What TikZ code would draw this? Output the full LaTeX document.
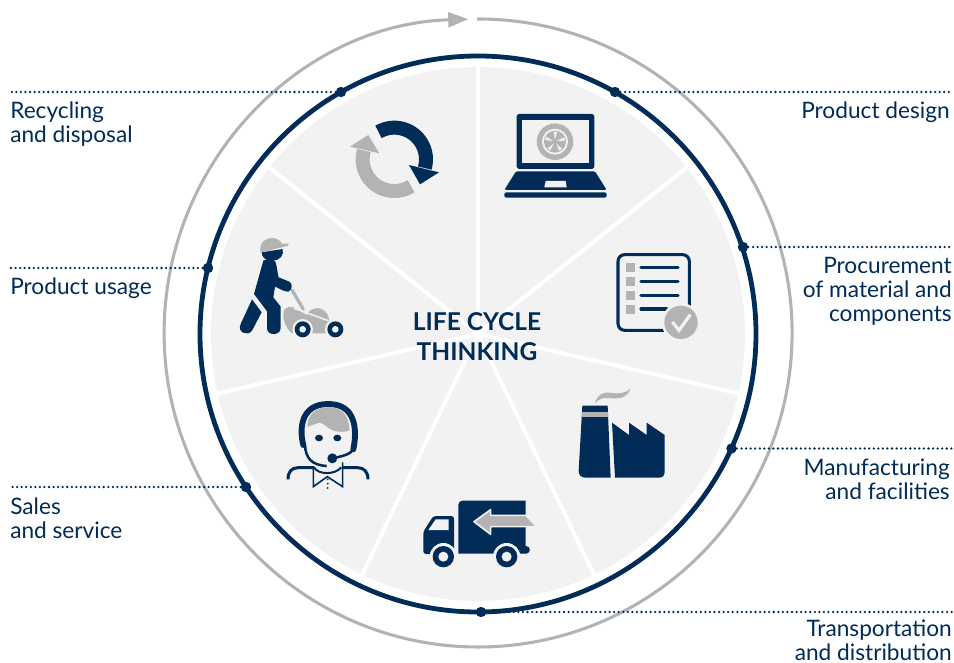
\documentclass[tikz,border=0pt]{standalone}
\usepackage{fontspec}
\setmainfont{Lato}
\usetikzlibrary{arrows.meta}
\definecolor{navy}{HTML}{012C57}
\definecolor{midgray}{HTML}{B3B3B3}
\definecolor{pale}{HTML}{F2F2F2}
\tikzset{
  ringdot/.style={circle, fill=navy, inner sep=0pt, minimum size=7.8pt},
  leader/.style={navy, line width=1.9pt, line cap=round, dash pattern=on 0pt off 3.42pt},
  steplabel/.style={navy, inner sep=0pt, font=\fontsize{17}{18}\selectfont},
  leftlabel/.style={steplabel, align=left, anchor=north west},
  rightlabel/.style={steplabel, align=right, anchor=north east},
  crop/.style={shift={#1}, x=0.25pt, y=0.25pt},
  navyfill/.style={fill=navy, draw=none},
  grayfill/.style={fill=midgray, draw=none},
  palefill/.style={fill=pale, draw=none},
  thickline/.style={navy, line width=2.3pt, line cap=round, line join=round}
}
\begin{document}
\begin{tikzpicture}[x=0.75pt, y=0.75pt, yscale=-1]
    \useasboundingbox (0,0) rectangle (954,663);
    \coordinate (ctr) at (478,334);

    % disc and spokes
    \fill[pale] (ctr) circle (267);
    \foreach \a in {0,...,6}
        \draw[white, line width=3pt] (ctr) -- +(-90+\a*360/7:270);

    % rings
    \draw[midgray, line width=2.3pt, -{Triangle[length=15pt, width=11pt]}] (477,19) arc[start angle=-90.2, end angle=268.2, radius=314];
    \draw[navy, line width=3.6pt] (ctr) circle (278);

    % dots on the ring
    \node[ringdot] (design) at (615,92) {};
    \node[ringdot] (procure) at (743,247) {};
    \node[ringdot] (manufact) at (731.5,448.5) {};
    \node[ringdot] (transport) at (481,612) {};
    \node[ringdot] (sales) at (246,487) {};
    \node[ringdot] (usage) at (208,268) {};
    \node[ringdot] (recycle) at (341,92) {};
    \coordinate (enddesign) at (953,92);
    \coordinate (endprocure) at (953,247);
    \coordinate (endmanufact) at (953,448.5);
    \coordinate (endtransport) at (953,612);
    \coordinate (endsales) at (11,487);
    \coordinate (endusage) at (11,268);
    \coordinate (endrecycle) at (11,92);
    \draw[leader] (design) -- (enddesign);
    \draw[leader] (procure) -- (endprocure);
    \draw[leader] (manufact) -- (endmanufact);
    \draw[leader] (transport) -- (endtransport);
    \draw[leader] (sales) -- (endsales);
    \draw[leader] (usage) -- (endusage);
    \draw[leader] (recycle) -- (endrecycle);

    % labels
    \node[rightlabel] (labdesign) at (950,102) {Product design};
    \node[rightlabel] (labprocure) at (952,257) {Procurement\\of material and\\components};
    \node[rightlabel] (labmanufact) at (950,459) {Manufacturing\\and facilities};
    \node[rightlabel] (labtransport) at (952,620) {Transportation\\and distribution};
    \node[leftlabel] (labsales) at (10,498) {Sales\\and service};
    \node[leftlabel] (labusage) at (10,278) {Product usage};
    \node[leftlabel] (labrecycle) at (10,102) {Recycling\\and disposal};
    \node[navy, align=center, font=\fontsize{18.4}{22.5}\selectfont\bfseries] (title) at (477,337) {LIFE CYCLE\\THINKING};

    % laptop
    \scoped[crop={(480,90)}]{
        \draw[navyfill, rounded corners=2pt] (110,72) rectangle (343,237);
        \fill[pale] (126,90) rectangle (328,220);
        \fill[midgray] (225,155) circle (55);
        \draw[pale, line width=0.9pt, dash pattern=on 1.2pt off 2.4pt] (225,155) circle (57);
        \fill[pale] (225,155) circle (39);
        \fill[midgray] (225,155) circle (33);
        \foreach \a in {0,72,...,288}
            \fill[pale] (225,155) ++(\a-90:6) -- ++(\a-100:24) arc[start angle=\a-100, end angle=\a-80, radius=30] -- cycle;
        \draw[navyfill, rounded corners=1pt] (108,244) -- (345,244) -- (380,300) -- (73,300) -- cycle;
        \fill[pale] (197,273) -- (257,273) -- (260,292) -- (193,292) -- cycle;
        \draw[navyfill, rounded corners=1.5pt] (73,307) -- (380,307) -- (380,323) -- (73,323) -- cycle;
    }

    % checklist
    \scoped[crop={(480,90)}]{
        \draw[navy, line width=2.3pt, rounded corners=5pt] (414,494) rectangle (628,721);
        \foreach \y in {533,574,616}
            \draw[thickline] (483,\y) -- (594,\y);
        \draw[thickline] (483,657) -- (560,657);
        \foreach \y in {533,574,616,658}
            \fill[midgray] (438,\y-13) rectangle (464,\y+13);
        \fill[pale] (603,697) circle (58);
        \fill[midgray] (603,697) circle (50);
        \draw[pale, line width=2.4pt] (577,696) -- (597,721) -- (631,674);
    }

    % factory
    \scoped[crop={(270,380)}]{
        \path[grayfill] (975,70) .. controls (980,45) and (1000,35) .. (1020,38) .. controls (1045,42) and (1065,42) .. (1081,25) .. controls (1075,50) and (1050,58) .. (1025,55) .. controls (1005,52) and (985,55) .. (975,70) -- cycle;
        \path[navyfill] (937,77) -- (1013,77) -- (1022,293) -- (947,293) .. controls (933,293) and (926,285) .. (926,272) -- cycle;
        \fill[midgray] (936,95) rectangle (1014,111);
        \path[navyfill] (1026,128) -- (1077,165) -- (1077,128) -- (1130,165) -- (1130,128) -- (1184,165) -- (1184,275) .. controls (1184,287) and (1178,293) .. (1166,293) -- (1035,293) -- cycle;
    }

    % truck
    \scoped[crop={(270,380)}]{
        \path[navyfill] (565,522) -- (565,375) .. controls (565,367) and (570,362) .. (578,362) -- (767,362) -- (767,498) -- (768,498) -- (768,521) -- (565,521) -- cycle;
        \fill[navy] (768,509.5) circle (11.5);
        \draw[navyfill, rounded corners=2pt] (460,522) -- (460,455) -- (490,408) -- (552,408) -- (552,522) -- cycle;
        \fill[pale] (475,450) -- (497,418) -- (536,418) -- (536,450) -- cycle;
        \fill[pale] (520,530) circle (41);
        \fill[pale] (710,530) circle (41);
        \fill[navy] (520,530) circle (32);
        \fill[navy] (710,530) circle (32);
        \fill[pale] (520,530) circle (15);
        \fill[pale] (710,530) circle (15);
        \draw[grayfill, draw=pale, line width=1.2pt, line join=round] (612,425) -- (662,389) -- (662,406) -- (768,406) -- (800,440) -- (662,440) -- (662,463) -- cycle;
    }

    % headset person
    \scoped[crop={(270,380)}]{
        \path[grayfill] (112,140) .. controls (125,138) and (140,128) .. (150,128) .. controls (165,130) and (175,152) .. (205,155) .. controls (220,156) and (230,155) .. (238,152) .. controls (238,105) and (215,82) .. (175,82) .. controls (135,82) and (112,105) .. (112,140) -- cycle;
        \draw[navy, line width=4.4pt, line cap=round] (100,195) .. controls (88,150) and (90,72) .. (175,72) .. controls (258,72) and (262,150) .. (250,208);
        \fill[navy] (147,174) ellipse (12 and 10);
        \fill[navy] (202,174) ellipse (12 and 10);
        \draw[navy, line width=1.9pt] (105,195) .. controls (107,235) and (125,255) .. (170,258);
        \draw[navy, line width=1.9pt] (250,208) .. controls (240,225) and (215,228) .. (190,235);
        \fill[navy] (187,235) circle (15);
        \draw[thickline, line cap=butt] (54,298) .. controls (54,275) and (65,263) .. (85,263) -- (132,263);
        \draw[thickline, line cap=butt] (218,263) -- (262,263) .. controls (282,263) and (294,275) .. (294,298);
        \draw[navy, line width=1.2pt, line join=miter] (130,262) -- (130,320) -- (172,290) -- (218,320) -- (218,247);
        \draw[navy, line width=1.5pt] (132,262) .. controls (145,285) and (195,285) .. (214,262);
        \foreach \y in {298,311,324}
            \fill[navy] (173,\y) circle (3);
    }

    % recycling arrows
    \scoped[crop={(220,100)}]{
        \draw[navy, line width=10.5pt] (523,178) ++(-120:95) arc[start angle=-120, end angle=16, radius=95];
        \path[navyfill] (567,195) -- (657,217) -- (600,253) -- cycle;
        \draw[midgray, line width=10.5pt] (523,178) ++(58:95) arc[start angle=58, end angle=196, radius=95];
        \path[grayfill] (478,160) -- (390,140) -- (445,105) -- cycle;
    }

    % man with mower
    \scoped[crop={(220,100)}]{
        \draw[midgray, line width=2.4pt, line cap=round] (216,570) -- (250,628);
        \path[grayfill] (190,640) .. controls (192,618) and (215,615) .. (235,630) -- (260,645) .. controls (270,620) and (315,612) .. (327,655) -- (327,700) -- (215,700) .. controls (200,685) and (188,665) .. (190,640) -- cycle;
        \draw[pale, line width=1.1pt] (222,625) -- (325,662);
        \fill[pale] (248,688) circle (31);
        \fill[pale] (346,688) circle (31);
        \fill[navy] (248,688) circle (24);
        \fill[navy] (346,688) circle (24);
        \fill[pale] (248,688) circle (10);
        \fill[pale] (346,688) circle (10);
        \path[navyfill] (130,482) .. controls (140,475) and (160,475) .. (166,485) .. controls (172,500) and (172,520) .. (176,532) -- (208,545) .. controls (218,550) and (218,570) .. (205,575) .. controls (190,575) and (178,565) .. (165,560) -- (160,592) -- (182,620) -- (182,685) .. controls (180,708) and (142,708) .. (141,685) -- (141,634) -- (102,582) -- cycle;
        \path[navyfill] (96,598) -- (125,637) -- (96,692) .. controls (85,710) and (50,698) .. (62,672) -- cycle;
        \path[navyfill] (125,457) -- (188,447) .. controls (192,465) and (182,482) .. (155,482) .. controls (135,482) and (125,470) .. (125,457) -- cycle;
        \path[grayfill] (122,458) .. controls (115,425) and (140,414) .. (155,414) .. controls (170,414) and (182,422) .. (186,431) -- (206,431) -- (204,437) -- cycle;
    }
\end{tikzpicture}
\end{document}
